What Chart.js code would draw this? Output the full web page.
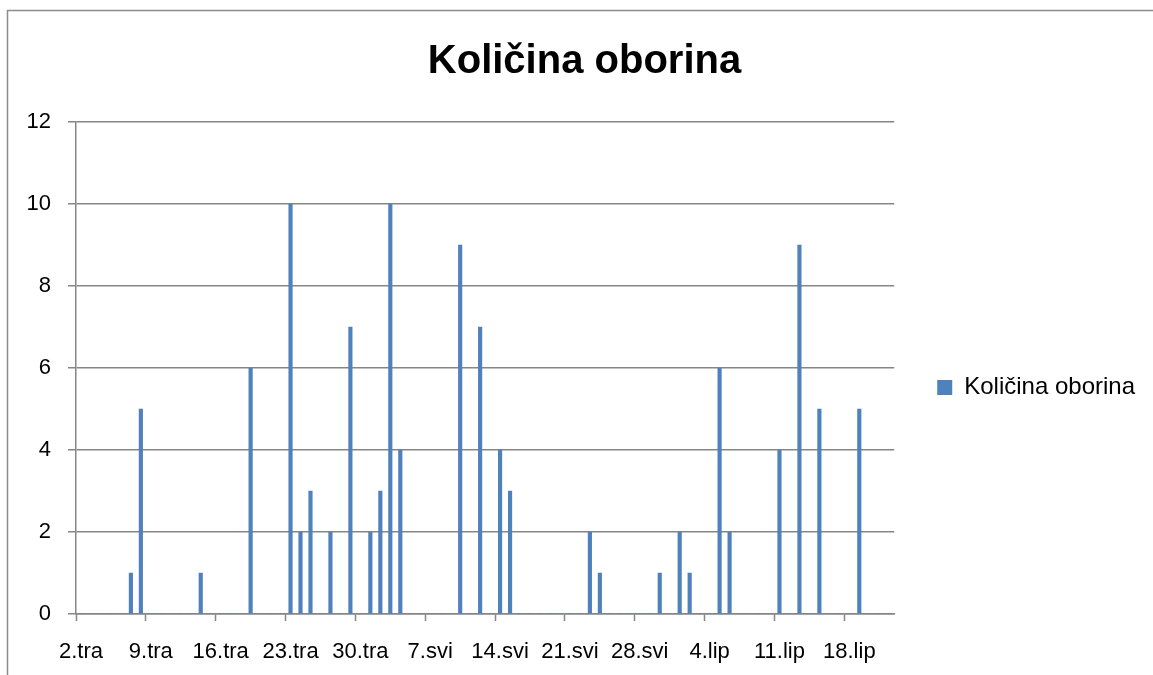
<!DOCTYPE html>
<html>
<head>
<meta charset="utf-8">
<script src="https://cdn.jsdelivr.net/npm/chart.js@4.4.1/dist/chart.umd.min.js"></script>
<style>
  html, body { margin: 0; padding: 0; background: #fff; overflow: hidden; }
  canvas { display: block; }
</style>
</head>
<body>
<canvas id="oborine" width="1153" height="675"></canvas>
<script>
// ==== PODACI ====
const mjeseci = ['tra', 'svi', 'lip'];
const prviDan = [2, 1, 1];
const zadnjiDan = [30, 31, 22];

// dani s kišom i količina (očitano s grafa)
const kisniDani = ['7.tra', '8.tra', '14.tra', '19.tra', '23.tra', '24.tra', '25.tra', '27.tra', '29.tra',
  '1.svi', '2.svi', '3.svi', '4.svi', '10.svi', '12.svi', '14.svi', '15.svi', '23.svi', '24.svi', '30.svi',
  '1.lip', '2.lip', '5.lip', '6.lip', '11.lip', '13.lip', '15.lip', '19.lip'];
const kolicine = [1, 5, 1, 6, 10, 2, 3, 2, 7,
  2, 3, 10, 4, 9, 7, 4, 3, 2, 1, 1,
  2, 1, 6, 2, 4, 9, 5, 5];

const oznakeX = ['2.tra', '9.tra', '16.tra', '23.tra', '30.tra', '7.svi', '14.svi',
  '21.svi', '28.svi', '4.lip', '11.lip', '18.lip'];
const oznakeY = [0, 2, 4, 6, 8, 10, 12];

// ==== Kategorije (svaki dan) ====
const dani = [];
mjeseci.forEach((m, i) => {
  for (let d = prviDan[i]; d <= zadnjiDan[i]; d++) dani.push(d + '.' + m);
});
const vrijednosti = dani.map(d => {
  const k = kisniDani.indexOf(d);
  return k >= 0 ? kolicine[k] : 0;
});

const siva = '#868686';
const font = 'Liberation Sans, Arial, sans-serif';

// okvir grafikona (gornji i lijevi rub)
const okvir = {
  id: 'okvir',
  beforeDraw(chart) {
    const c = chart.ctx;
    c.save();
    c.strokeStyle = '#8c8c8c';
    c.lineWidth = 1.5;
    c.beginPath();
    c.moveTo(7.5, 700);
    c.lineTo(7.5, 10.5);
    c.lineTo(1200, 10.5);
    c.stroke();
    c.restore();
  }
};

new Chart(document.getElementById('oborine'), {
  type: 'bar',
  data: {
    labels: dani,
    datasets: [{
      label: 'Količina oborina',
      data: vrijednosti,
      backgroundColor: '#4f81bd',
      borderWidth: 0,
      barThickness: 3.5
    }]
  },
  options: {
    responsive: false,
    animation: false,
    layout: { padding: { left: 24, right: 8, top: 10, bottom: 0 } },
    plugins: {
      tooltip: { enabled: false },
      title: {
        display: true,
        text: 'Količina oborina',
        color: '#000',
        font: { family: font, size: 40, weight: 'bold' },
        padding: { top: 28, bottom: 36 }
      },
      legend: {
        position: 'right',
        maxWidth: 251,
        // prazan naslov legende samo spusti stavku prema dolje
        title: { display: true, text: ' ', font: { size: 12 }, padding: { top: 0, bottom: 75.6 } },
        labels: {
          boxWidth: 15,
          boxHeight: 15,
          padding: 43,
          color: '#000',
          font: { family: font, size: 24 }
        }
      }
    },
    scales: {
      x: {
        afterFit: s => { s.height = 61; },
        grid: {
          offset: true,
          drawOnChartArea: false,
          tickLength: 7,
          tickWidth: 1.5,
          tickColor: ctx => (oznakeX.includes(dani[ctx.index]) ? siva : 'rgba(0,0,0,0)')
        },
        border: { display: true, color: siva, width: 1.5 },
        ticks: {
          autoSkip: false,
          maxRotation: 0,
          padding: 18,
          color: '#000',
          font: { family: font, size: 22 },
          callback: (v, i) => (oznakeX.includes(dani[i]) ? dani[i] : '')
        }
      },
      y: {
        min: 0,
        max: 12,
        afterFit: s => { s.width = 52; },
        afterBuildTicks: s => { s.ticks = oznakeY.map(v => ({ value: v })); },
        grid: { color: siva, lineWidth: 1.5, tickLength: 8, drawTicks: true },
        border: { display: true, color: siva, width: 1.5 },
        ticks: {
          padding: 17,
          color: '#000',
          font: { family: font, size: 22 }
        }
      }
    }
  },
  plugins: [okvir]
});
</script>
</body>
</html>
